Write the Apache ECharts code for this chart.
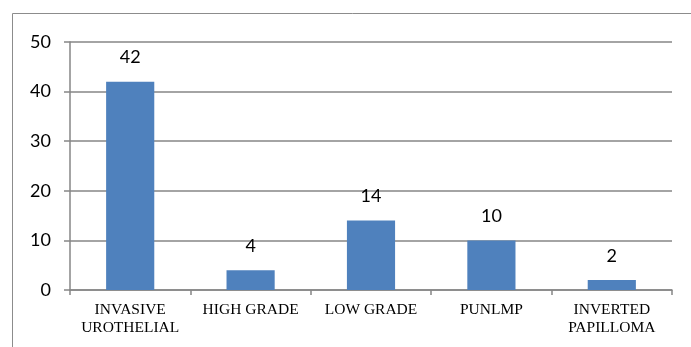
<!DOCTYPE html>
<html>
<head>
<meta charset="utf-8">
<script src="https://cdn.jsdelivr.net/npm/echarts@6/dist/echarts.min.js"></script>
<style>
  html, body { margin: 0; padding: 0; background: #fff; }
  #chart { width: 691px; height: 347px; }
</style>
</head>
<body>
<div id="chart"></div>
<script>
// Case counts by lesion type
const categories = ['INVASIVE\nUROTHELIAL', 'HIGH GRADE', 'LOW GRADE', 'PUNLMP', 'INVERTED\nPAPILLOMA'];
const counts = [42, 4, 14, 10, 2];
const yTicks = [0, 10, 20, 30, 40, 50];

const chart = echarts.init(document.getElementById('chart'), null, { renderer: 'canvas' });

chart.setOption({
  animation: false,
  backgroundColor: '#fff',
  graphic: [{
    type: 'rect',
    shape: { x: 12.5, y: 13.5, width: 700, height: 400 },
    style: { fill: 'none', stroke: '#8c8c8c', lineWidth: 1 },
    silent: true
  }],
  grid: { left: 70, right: 19, top: 42, bottom: 57 },
  xAxis: {
    type: 'category',
    data: categories,
    axisLine: { lineStyle: { color: '#868686', width: 1.5 } },
    axisTick: { show: true, length: 5, lineStyle: { color: '#868686', width: 1.5 } },
    axisLabel: {
      color: '#000',
      fontFamily: 'Liberation Serif',
      fontSize: 15.5,
      lineHeight: 18,
      margin: 11,
      interval: 0
    }
  },
  yAxis: {
    type: 'value',
    min: yTicks[0],
    max: yTicks[yTicks.length - 1],
    interval: 10,
    axisLine: { show: true, lineStyle: { color: '#868686', width: 1.5 } },
    axisTick: { show: true, length: 6, lineStyle: { color: '#868686', width: 1.5 } },
    splitLine: { lineStyle: { color: '#868686', width: 1.5 } },
    axisLabel: {
      color: '#000',
      fontFamily: 'Lato',
      fontSize: 18,
      margin: 19
    }
  },
  series: [{
    type: 'bar',
    data: counts,
    barWidth: '40%',
    itemStyle: { color: '#4F81BD' },
    label: {
      show: true,
      position: 'top',
      distance: 15,
      color: '#000',
      fontFamily: 'Lato',
      fontSize: 18
    }
  }]
});
</script>
</body>
</html>
